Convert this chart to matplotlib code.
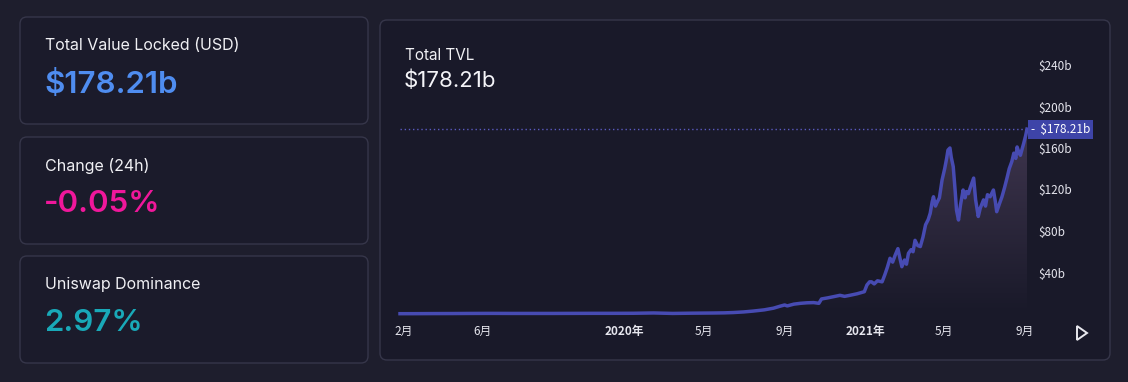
import matplotlib
matplotlib.use("Agg")
import matplotlib.pyplot as plt
import matplotlib.dates as mdates
from matplotlib.patches import FancyBboxPatch, Polygon
import numpy as np
import pandas as pd

plt.rcParams['font.family'] = ['Noto Sans CJK SC', 'DejaVu Sans']

# data (TVL in billions USD)
dates = ["2019-01-26", "2019-02-15", "2019-03-15", "2019-04-15", "2019-05-15", "2019-06-15",
         "2019-07-15", "2019-08-15", "2019-09-15", "2019-10-15", "2019-11-15", "2019-12-15",
         "2020-01-15", "2020-02-15", "2020-03-15", "2020-04-15", "2020-05-15", "2020-06-01",
         "2020-06-15", "2020-07-01", "2020-07-15", "2020-08-01", "2020-08-15", "2020-08-25",
         "2020-09-01", "2020-09-05", "2020-09-15", "2020-09-25", "2020-10-05", "2020-10-15",
         "2020-10-23", "2020-10-27", "2020-11-05", "2020-11-15", "2020-11-24", "2020-12-01",
         "2020-12-09", "2020-12-20", "2020-12-31", "2021-01-04", "2021-01-08", "2021-01-11",
         "2021-01-15", "2021-01-20", "2021-01-27", "2021-01-31", "2021-02-04", "2021-02-08",
         "2021-02-12", "2021-02-16", "2021-02-20", "2021-02-23", "2021-02-26", "2021-03-02",
         "2021-03-05", "2021-03-08", "2021-03-12", "2021-03-15", "2021-03-18", "2021-03-22",
         "2021-03-26", "2021-03-30", "2021-04-03", "2021-04-07", "2021-04-10", "2021-04-13",
         "2021-04-15", "2021-04-18", "2021-04-20", "2021-04-24", "2021-04-28", "2021-05-02",
         "2021-05-05", "2021-05-07", "2021-05-10", "2021-05-12", "2021-05-15", "2021-05-18",
         "2021-05-20", "2021-05-23", "2021-05-26", "2021-05-30", "2021-06-02", "2021-06-04",
         "2021-06-07", "2021-06-10", "2021-06-15", "2021-06-18", "2021-06-22", "2021-06-25",
         "2021-06-30", "2021-07-03", "2021-07-06", "2021-07-10", "2021-07-15", "2021-07-18",
         "2021-07-20", "2021-07-24", "2021-07-28", "2021-08-01", "2021-08-05", "2021-08-08",
         "2021-08-12", "2021-08-15", "2021-08-18", "2021-08-20", "2021-08-23", "2021-08-25",
         "2021-08-28", "2021-08-30", "2021-09-02", "2021-09-04"]
tvl = [0.30, 0.32, 0.40, 0.45, 0.55, 0.60,
       0.55, 0.55, 0.55, 0.60, 0.65, 0.65,
       0.70, 1.00, 0.55, 0.80, 0.95, 1.1,
       1.4, 2.0, 2.8, 4.0, 5.6, 7.5,
       8.7, 7.8, 9.5, 10.3, 10.8, 11.0,
       10.3, 14.5, 15.5, 16.8, 18.0, 17.0,
       18.0, 19.5, 21.5, 28, 31, 31,
       29, 32, 31, 37.6, 45, 53.7,
       50, 57, 63, 54, 45.6, 52,
       48, 58.5, 62, 60, 71, 66,
       65, 74, 86, 91, 97, 108,
       113, 104, 107, 112, 129, 140,
       150, 158, 160, 151, 142, 118,
       100, 90.6, 105, 119.5, 112, 118,
       116, 122, 131, 110, 94, 102,
       110, 104, 115, 113, 119.5, 108,
       98.6, 106, 113, 122, 132, 140,
       147, 155, 150, 161, 155, 153,
       160, 164.5, 172, 178.21]

current_tvl = 178.21
y_ticks = [40, 80, 120, 160, 200, 240]
x_tick_dates = ["2019-02-01", "2019-06-01", "2020-01-01", "2020-05-01",
                "2020-09-01", "2021-01-01", "2021-05-01", "2021-09-01"]
x_tick_labels = ["2月", "6月", "2020年", "5月", "9月", "2021年", "5月", "9月"]

cards = [("Total Value Locked (USD)", "$178.21b", "#4f8df0"),
         ("Change (24h)", "-0.05%", "#f0179b"),
         ("Uniswap Dominance", "2.97%", "#19a9b8")]

W, H = 1128, 382
bg = '#1e1e2d'
fig = plt.figure(figsize=(W / 100, H / 100), dpi=100, facecolor=bg)

# background axes in pixel coordinates
bgax = fig.add_axes([0, 0, 1, 1])
bgax.set_xlim(0, W)
bgax.set_ylim(H, 0)
bgax.axis('off')

card_tops = [17, 137, 256]
for (title, value, col), top in zip(cards, card_tops):
    bgax.add_patch(FancyBboxPatch((20, top), 348, 107, boxstyle="round,pad=0,rounding_size=7",
                                  facecolor='#1b1b2b', edgecolor='#36364a', lw=1))
    bgax.text(45, top + 29, title, color='#f0f0f4', fontsize=11.5, family=['Inter', 'DejaVu Sans'],
              va='center', ha='left')
    bgax.text(44, top + 67, value, color=col, fontsize=22.5, fontweight='semibold',
              family=['Inter', 'DejaVu Sans'], va='center', ha='left')

# chart panel
bgax.add_patch(FancyBboxPatch((380, 20), 730, 340, boxstyle="round,pad=0,rounding_size=7",
                              facecolor='#191929', edgecolor='#36364a', lw=1))
bgax.text(405, 55, "Total TVL", color='#f0f0f4', fontsize=11, family=['Inter', 'DejaVu Sans'],
          va='center', ha='left')
bgax.text(404, 81, "$178.21b", color='#f4f4f8', fontsize=16, family=['Inter', 'DejaVu Sans'],
          va='center', ha='left')
bgax.add_patch(Polygon([(1077, 326), (1077, 340), (1087, 333)], closed=True, fill=False,
                       edgecolor='#e8e8ee', lw=1.4))

# chart axes
x_left, x_right, y_top, y_bot = 400, 1027, 55, 318
ax = fig.add_axes([x_left / W, 1 - y_bot / H, (x_right - x_left) / W, (y_bot - y_top) / H])
ax.set_facecolor('none')
for s in ax.spines.values():
    s.set_visible(False)

x = mdates.date2num(pd.to_datetime(dates))
y = np.array(tvl)
px_per_b = 41.5 / 40
ax.set_ylim(-(y_bot - 314) / px_per_b, (314 - y_top) / px_per_b)
ax.set_xlim(x[0], x[-1])

# gradient fill under the line
fill = ax.fill_between(x, y, 0, facecolor='none', edgecolor='none')
grad = np.zeros((256, 1, 4))
grad[:, 0, 0] = 0.30
grad[:, 0, 1] = 0.25
grad[:, 0, 2] = 0.36
grad[:, 0, 3] = np.linspace(0, 0.75, 256)
im = ax.imshow(grad, extent=[x[0], x[-1], 0, 180], aspect='auto', origin='lower', zorder=1)
im.set_clip_path(fill.get_paths()[0], transform=ax.transData)

ax.plot(x, y, color='#474bb2', lw=2.5, zorder=3, solid_joinstyle='round', clip_on=False)
ax.axhline(current_tvl, color='#5a5ac0', lw=1, ls=(0, (1, 2)), zorder=2)

ax.yaxis.tick_right()
ax.set_yticks(y_ticks)
ax.set_yticklabels([f"${v}b" for v in y_ticks], color='#e6e6ee', fontsize=8.5, fontweight='medium')
ax.tick_params(axis='y', length=0, pad=8)

ax.set_xticks(mdates.date2num(pd.to_datetime(x_tick_dates)))
ax.set_xticklabels(x_tick_labels, color='#e6e6ee', fontsize=8.5, fontweight='medium')
for lab in ax.get_xticklabels():
    if '年' in lab.get_text():
        lab.set_fontweight('bold')
ax.tick_params(axis='x', length=0, pad=5)

ax.annotate(f"-  ${current_tvl}b", xy=(1, current_tvl), xycoords=('axes fraction', 'data'),
            xytext=(3, 0), textcoords='offset points', color='white', fontsize=8.5, va='center',
            ha='left', bbox=dict(boxstyle='square,pad=0.25', facecolor='#3e44a8', edgecolor='none'),
            zorder=5, annotation_clip=False)

fig.savefig('out.png', dpi=100, facecolor=bg)
